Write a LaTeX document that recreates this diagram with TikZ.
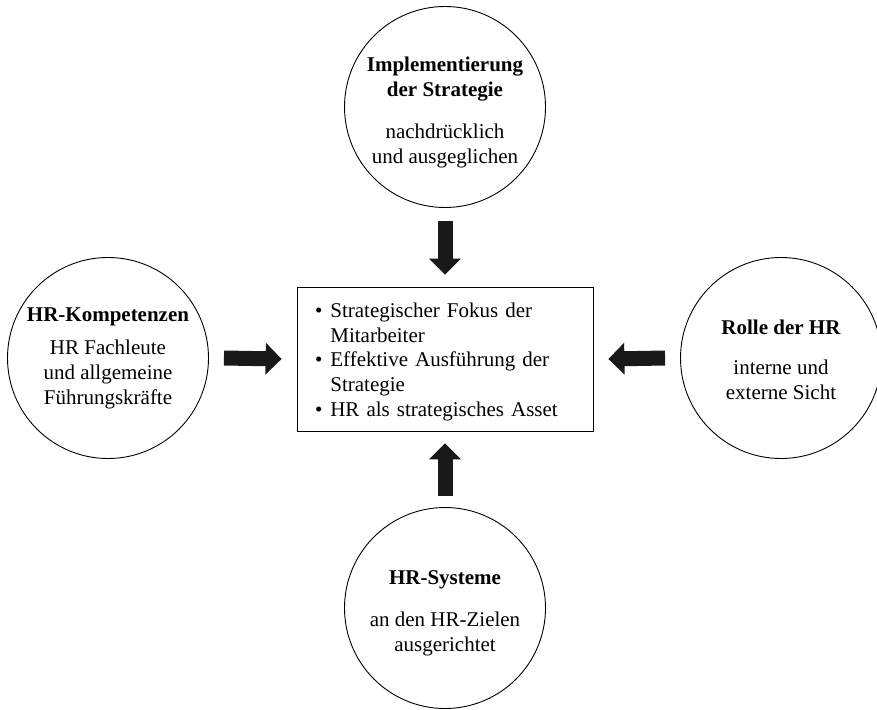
\documentclass[tikz,border=0pt]{standalone}
\usepackage{fontspec}
\setmainfont{Liberation Serif}
\usetikzlibrary{arrows.meta}
\begin{document}
\begin{tikzpicture}[x=1pt,y=-1pt,
  disc/.style={circle,draw,line width=0.9pt,minimum size=201pt,inner sep=0pt},
  disctext/.style={align=center,inner sep=0pt,font=\fontsize{21}{25}\selectfont},
  box/.style={draw,line width=0.8pt,minimum width=296pt,minimum height=144pt,inner sep=0pt},
  boxtext/.style={text width=260pt,inner sep=0pt,align=left,
    font=\fontsize{21}{24.6}\selectfont},
  blockarrow/.style={line width=15pt,-{Triangle[width=31pt,length=16pt]},black!90}]
\useasboundingbox (0,0) rectangle (877,709);

% central box with the three outcomes
\node[box] (c) at (445,359) {};
\node[boxtext] (ctext) at ([yshift=-3pt]c.center) {%
  \begin{tabular}{@{}l@{\hspace{8pt}}l@{}}
  \textbullet & Strategischer Fokus der\\
              & Mitarbeiter\\
  \textbullet & Effektive Ausführung der\\
              & Strategie\\
  \textbullet & HR als strategisches Asset
  \end{tabular}};

% the four surrounding fields
\node[disc] (top) at (445,107) {};
\node[disctext] (toptext) at ([yshift=-5pt]top.center)
  {\textbf{Implementierung}\\\textbf{der Strategie}\\[17pt]
   nachdrücklich\\und ausgeglichen};

\node[disc] (left) at (108,358) {};
\node[disctext] (lefttext) at (left.center)
  {\textbf{HR-Kompetenzen}\\[8pt]
   HR Fachleute\\und allgemeine\\Führungskräfte};

\node[disc] (right) at (781,358) {};
\node[disctext] (righttext) at ([yshift=-2pt]right.center)
  {\textbf{Rolle der HR}\\[15pt]
   interne und\\externe Sicht};

\node[disc] (bottom) at (445,608) {};
\node[disctext] (bottomtext) at ([yshift=-5pt]bottom.center)
  {\textbf{HR-Systeme}\\[17pt]
   an den HR-Zielen\\ausgerichtet};

% block arrows pointing into the box
\draw[blockarrow] ([yshift=-13pt]top.south) -- ([yshift=12pt]c.north);
\draw[blockarrow] ([yshift=11pt]bottom.north) -- ([yshift=-12pt]c.south);
\draw[blockarrow] ([xshift=15pt]left.east) -- ([xshift=-15pt]c.west);
\draw[blockarrow] ([xshift=-15pt]right.west) -- ([xshift=15pt]c.east);
\end{tikzpicture}
\end{document}
